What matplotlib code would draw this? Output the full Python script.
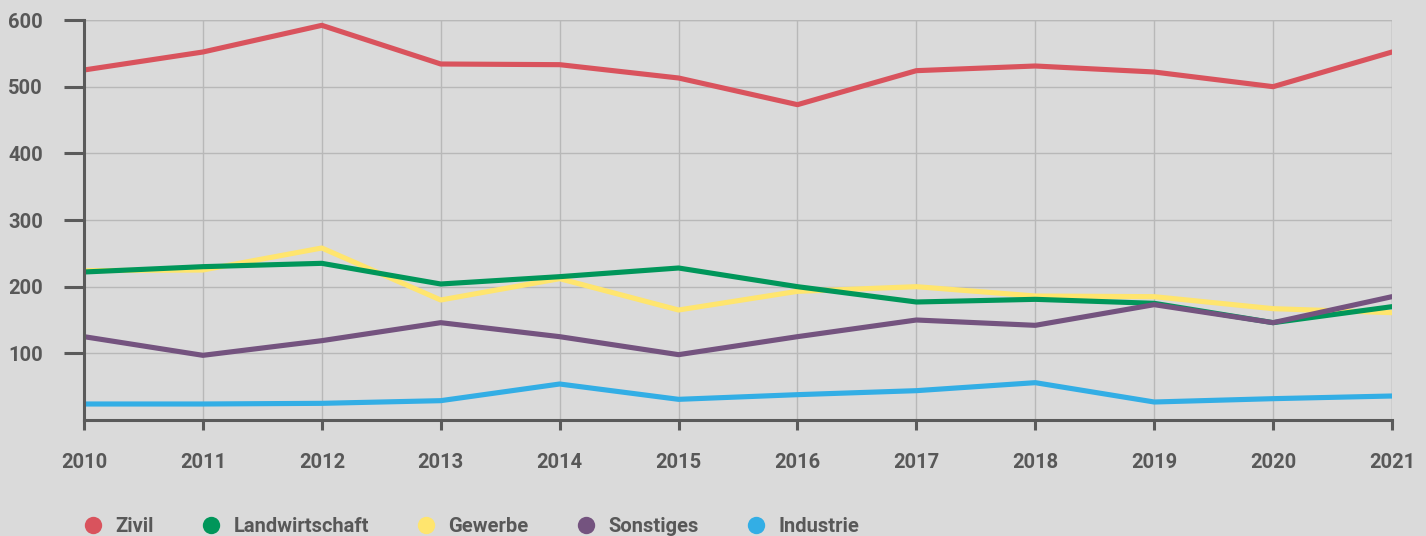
import matplotlib
matplotlib.use("Agg")
import matplotlib.pyplot as plt
from matplotlib.lines import Line2D
from matplotlib import font_manager

years = [2010, 2011, 2012, 2013, 2014, 2015, 2016, 2017, 2018, 2019, 2020, 2021]
zivil = [525, 552, 592, 534, 533, 513, 473, 524, 531, 522, 500, 552]
landwirtschaft = [222, 230, 235, 204, 215, 228, 200, 177, 181, 175, 146, 170]
gewerbe = [224, 225, 258, 180, 212, 165, 193, 200, 186, 185, 167, 161]
sonstiges = [125, 97, 119, 146, 125, 98, 125, 150, 142, 173, 146, 185]
industrie = [24, 24, 25, 29, 54, 31, 38, 44, 56, 27, 32, 36]

series_names = ["Zivil", "Landwirtschaft", "Gewerbe", "Sonstiges", "Industrie"]
series_values = [zivil, landwirtschaft, gewerbe, sonstiges, industrie]
colors = ["#d9535d", "#00965a", "#ffe56e", "#74537f", "#33aee5"]
draw_order = [0, 2, 1, 3, 4]
y_ticks = [100, 200, 300, 400, 500, 600]

avail = {f.name for f in font_manager.fontManager.ttflist}
fam = "Liberation Sans Narrow" if "Liberation Sans Narrow" in avail else "Roboto"
plt.rcParams["font.family"] = [fam, "DejaVu Sans"]

bg = "#dadada"
txt = "#585858"
fig = plt.figure(figsize=(14.26, 5.36), dpi=100, facecolor=bg)
ax = fig.add_axes([84 / 1426, 1 - 420 / 536, (1392 - 84) / 1426, 400 / 536])
ax.set_facecolor(bg)

for i in draw_order:
    ax.plot(years, series_values[i], color=colors[i], lw=3.7, solid_capstyle="round",
            solid_joinstyle="round", zorder=3)

ax.set_xlim(2010, 2021)
ax.set_ylim(0, 600)
ax.set_xticks(years)
ax.set_yticks(y_ticks)
ax.grid(True, color="#b8b8b8", lw=1.0, zorder=0)
for s in ["top", "right"]:
    ax.spines[s].set_visible(False)
for s in ["left", "bottom"]:
    ax.spines[s].set_color("#5a5a5a")
    ax.spines[s].set_linewidth(2.2)
    ax.spines[s].set_zorder(4)
ax.axvline(2021, color="#b8b8b8", lw=1.0, zorder=0)
ax.axhline(600, color="#b8b8b8", lw=1.0, zorder=0)

ax.tick_params(axis="y", length=14.5, width=2.2, color="#5a5a5a", pad=15,
               labelsize=14.5, labelcolor=txt)
ax.tick_params(axis="x", length=7.5, width=2.2, color="#5a5a5a", pad=16,
               labelsize=14.5, labelcolor=txt)
for lab in ax.get_xticklabels() + ax.get_yticklabels():
    lab.set_fontweight("bold")

handles = [Line2D([], [], marker="o", ls="none", markersize=12.5, color=c,
                  markeredgewidth=0) for c in colors]
leg = fig.legend(handles, series_names, loc="lower left", ncol=5,
                 bbox_to_anchor=(73 / 1426, -0.019), frameon=False, borderpad=0.0,
                 handletextpad=0.6, columnspacing=2.35, handlelength=1.0,
                 prop={"weight": "bold", "size": 14.5})
for t in leg.get_texts():
    t.set_color(txt)

fig.savefig("out.png", dpi=100, facecolor=bg)
